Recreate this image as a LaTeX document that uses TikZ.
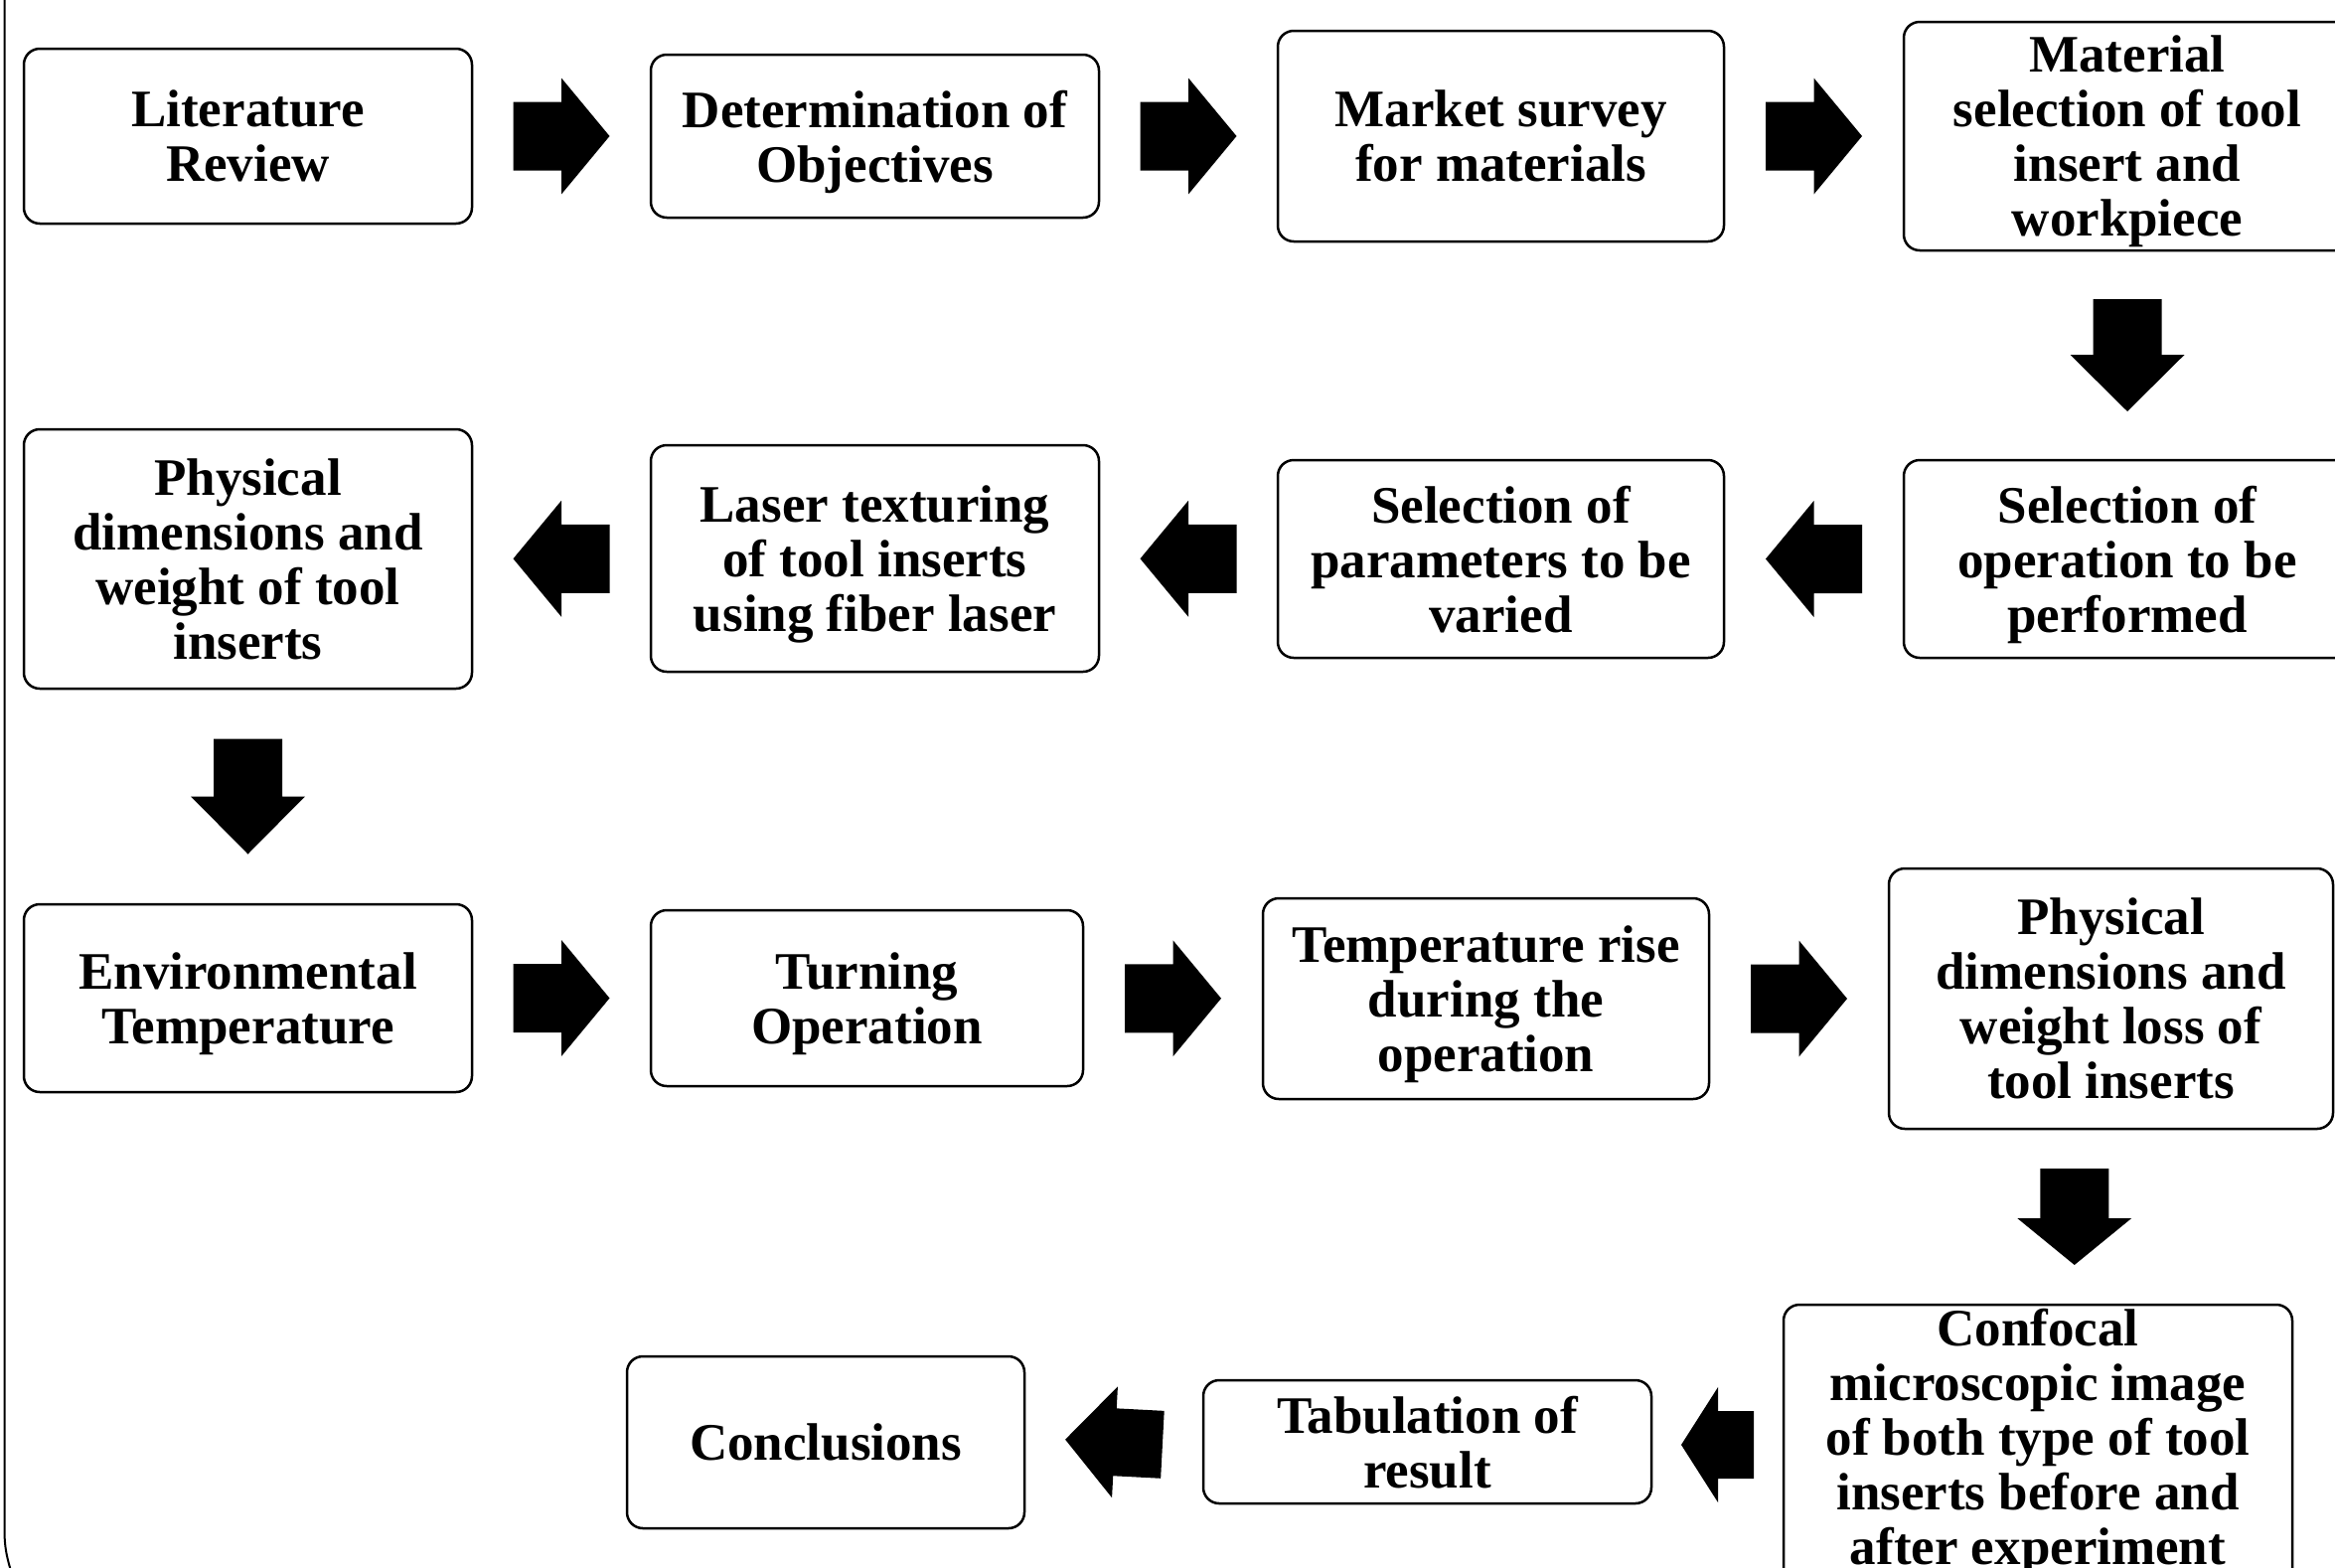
\documentclass[tikz,border=0pt]{standalone}
\usepackage{fontspec}
\setmainfont{Liberation Serif}
\usetikzlibrary{calc}
\tikzset{
  box/.style={draw=black, line width=2.5pt, rounded corners=16pt, align=center,
    inner sep=0pt, text depth=0pt, font=\fontsize{53}{55}\selectfont\bfseries},
  pics/barrow/.style n args={4}{code={%
    \fill[black] ({-(#1+#2)/2},-#3) -- ({-(#1+#2)/2+#1},-#3) -- ({-(#1+#2)/2+#1},-#4)
      -- ({(#1+#2)/2},0) -- ({-(#1+#2)/2+#1},#4) -- ({-(#1+#2)/2+#1},#3)
      -- ({-(#1+#2)/2},#3) -- cycle;
  }}
}
\begin{document}
\begin{tikzpicture}[x=1pt,y=-1pt]
\useasboundingbox (0,0) rectangle (2350,1577);
\fill[white] (0,0) rectangle (2350,1577);
% left border
\draw[line width=2pt] (4.5,-5) -- (4.5,1540) .. controls (4.5,1560) and (8,1572) .. (14,1590);
% row 1
\node[box, minimum width=451pt, minimum height=176pt] (A) at (249.5,137) {Literature\\Review};
\node[box, minimum width=451pt, minimum height=164pt] (B) at (880.5,137) {Determination of\\Objectives};
\node[box, minimum width=449pt, minimum height=212pt] (C) at (1510.5,137) {Market survey\\for materials};
\node[box, minimum width=450pt, minimum height=230pt] (D) at (2141,137) {Material\\selection of tool\\insert and\\workpiece};
% row 2
\node[box, minimum width=450pt, minimum height=199pt] (H) at (2141,562.5) {Selection of\\operation to be\\performed};
\node[box, minimum width=449pt, minimum height=199pt] (G) at (1510.5,562.5) {Selection of\\parameters to be\\varied};
\node[box, minimum width=451pt, minimum height=228pt] (F) at (880.5,562) {Laser texturing\\of tool inserts\\using fiber laser};
\node[box, minimum width=451pt, minimum height=261pt] (E) at (249.5,562.5) {Physical\\dimensions and\\weight of tool\\inserts};
% row 3
\node[box, minimum width=451pt, minimum height=189pt] (I) at (249.5,1004.5) {Environmental\\Temperature};
\node[box, minimum width=435pt, minimum height=177pt] (J) at (872.5,1004.5) {Turning\\Operation};
\node[box, minimum width=449pt, minimum height=202pt] (K) at (1495.5,1005) {Temperature rise\\during the\\operation};
\node[box, minimum width=447pt, minimum height=262pt] (L) at (2124.5,1005) {Physical\\dimensions and\\weight loss of\\tool inserts};
% row 4
\node[box, text depth=23pt, minimum width=512pt, minimum height=288pt] (M) at (2051,1457) {Confocal\\microscopic image\\of both type of tool\\inserts before and\\after experiment};
\node[box, minimum width=451pt, minimum height=124pt] (N) at (1436.5,1451) {Tabulation of\\result};
\node[box, minimum width=400pt, minimum height=173pt] (O) at (831,1451.5) {Conclusions};
% arrows row 1
\pic at ($(A.east)!0.5!(B.west)$) {barrow={48.5}{48.5}{34.5}{58.5}};
\pic at ($(B.east)!0.5!(C.west)$) {barrow={48.5}{48.5}{34.5}{58.5}};
\pic at ($(C.east)!0.5!(D.west)$) {barrow={48.5}{48.5}{34.5}{58.5}};
\pic[rotate=-90] at ($(D.south)!0.5!(H.north)$) {barrow={56}{57}{34.5}{57.5}};
% arrows row 2
\pic[rotate=180] at ($(H.west)!0.5!(G.east)$) {barrow={48.5}{48.5}{34.5}{58.5}};
\pic[rotate=180] at ($(G.west)!0.5!(F.east)$) {barrow={48.5}{48.5}{34.5}{58.5}};
\pic[rotate=180] at ($(F.west)!0.5!(E.east)$) {barrow={48.5}{48.5}{34.5}{58.5}};
\pic[rotate=-90] at ($(E.south)!0.5!(I.north)$) {barrow={58}{58}{34.5}{57.5}};
% arrows row 3
\pic at ($(I.east)!0.5!(J.west)$) {barrow={48.5}{48.5}{34.5}{58.5}};
\pic at ($(J.east)!0.5!(K.west)$) {barrow={48.5}{48.5}{34.5}{58.5}};
\pic at ($(K.east)!0.5!(L.west)$) {barrow={48.5}{48.5}{34.5}{58.5}};
\pic[rotate=-90] at ($(L.south)!0.5!(M.north)$) {barrow={50}{47}{34.5}{57.5}};
% arrows row 4
\pic[rotate=180] at ($(M.west)!0.5!(N.east)$) {barrow={36}{37}{34}{58}};
\pic[rotate=177] at ($(N.west)!0.5!(O.east)$) {barrow={48}{50}{34}{56}};
\end{tikzpicture}
\end{document}
